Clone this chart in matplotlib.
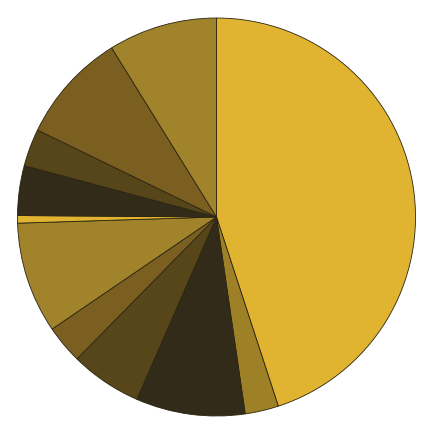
import matplotlib
matplotlib.use("Agg")
import matplotlib.pyplot as plt

values = [44.97, 2.72, 8.86, 5.81, 3.11, 9.03, 0.61, 4.04, 3.04, 8.97, 8.83]
colors = ["#E0B431", "#9E8026", "#332B19", "#574619", "#7A5F20", "#A0832A",
          "#E0B431", "#332B19", "#574619", "#7A5F20", "#A0832A"]

fig = plt.figure(figsize=(4.34, 4.33), dpi=100)
ax = fig.add_axes([0, 0, 1, 1])
ax.pie(values, colors=colors, startangle=90, counterclock=False, radius=1.0,
       wedgeprops=dict(edgecolor="#2a2410", linewidth=0.6))
r = 199.0
ax.set_xlim(-216.5 / r, 217.5 / r)
ax.set_ylim(-216.0 / r, 217.0 / r)
ax.set_aspect("equal")
ax.axis("off")
fig.savefig("out.png", dpi=100)
